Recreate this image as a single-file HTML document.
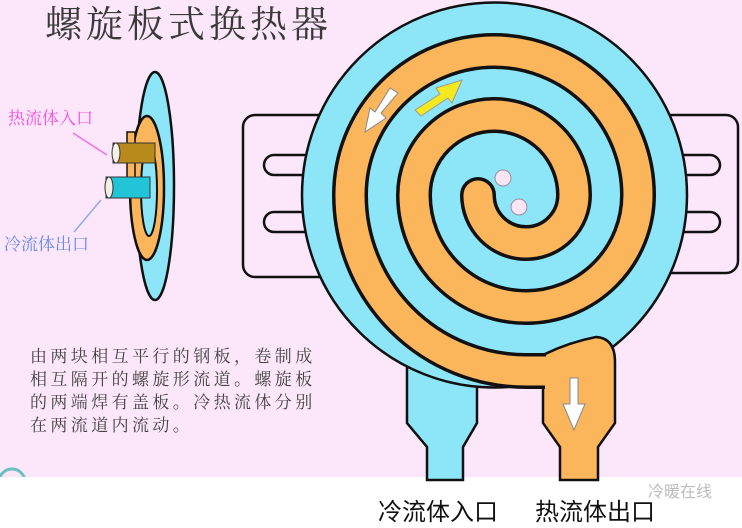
<!DOCTYPE html>
<html><head><meta charset="utf-8"><style>
html,body{margin:0;padding:0;}
body{width:742px;height:528px;overflow:hidden;background:#fff;position:relative;}
</style></head><body>
<svg width="742" height="528" viewBox="0 0 742 528" xmlns="http://www.w3.org/2000/svg" style="position:absolute;left:0;top:0">
<rect x="0" y="0" width="742" height="477" fill="#fbe6fa"/>
<text x="45" y="37" font-family="'Liberation Serif','Noto Serif CJK SC',serif" font-size="37" fill="#3a3a3a" letter-spacing="4">螺旋板式换热器</text>
<ellipse cx="155" cy="186" rx="19" ry="114" fill="#8de6f8" stroke="#111" stroke-width="2.5"/>
<ellipse cx="147" cy="188" rx="17" ry="72" fill="#fbb55a" stroke="#111" stroke-width="2.5"/>
<ellipse cx="149" cy="190" rx="8" ry="46" fill="#8de6f8" stroke="#111" stroke-width="2"/>
<rect x="127" y="132" width="8" height="60" fill="#fbb55a" stroke="#111" stroke-width="1.5"/>
<rect x="113" y="143" width="42" height="20" fill="#b88a1c" stroke="#333" stroke-width="1"/>
<ellipse cx="116" cy="153" rx="4" ry="10" fill="#f4f0e8" stroke="#333" stroke-width="1"/>
<rect x="106" y="177" width="44" height="21" fill="#22c4d8" stroke="#333" stroke-width="1"/>
<ellipse cx="109" cy="187.5" rx="4" ry="10.5" fill="#f4f0e8" stroke="#333" stroke-width="1"/>
<line x1="73" y1="133" x2="107" y2="155" stroke="#f070e8" stroke-width="1.5"/>
<line x1="74" y1="232" x2="101" y2="200" stroke="#8fa8f0" stroke-width="1.5"/>
<text x="8" y="124" font-family="'Liberation Serif','Noto Serif CJK SC',serif" font-size="17" fill="#f050e0">热流体入口</text>
<text x="4" y="250" font-family="'Liberation Serif','Noto Serif CJK SC',serif" font-size="17" fill="#6a8ae8">冷流体出口</text>
<rect x="243" y="115" width="90" height="162" rx="12" fill="#fbe6fa" stroke="#111" stroke-width="2.5"/>
<rect x="264" y="155" width="70" height="20" rx="10" fill="#fbe6fa" stroke="#111" stroke-width="2.5"/>
<rect x="264" y="212" width="70" height="20" rx="10" fill="#fbe6fa" stroke="#111" stroke-width="2.5"/>
<rect x="650" y="115" width="88" height="158" rx="12" fill="#fbe6fa" stroke="#111" stroke-width="2.5"/>
<rect x="650" y="155" width="70" height="20" rx="10" fill="#fbe6fa" stroke="#111" stroke-width="2.5"/>
<rect x="650" y="212" width="70" height="20" rx="10" fill="#fbe6fa" stroke="#111" stroke-width="2.5"/>
<path d="M407 340 L407 423 L427 447 L427 480 L463 480 L463 447 L477 423 L477 340 Z" fill="#8de6f8" stroke="#111" stroke-width="2.5"/>
<circle cx="494.5" cy="195" r="192.5" fill="#8de6f8" stroke="#111" stroke-width="2.5"/>
<path d="M543 386 L543 423 L560 447 L560 480 L598 480 L598 447 L615 423 L615 362 Q615 338 596 337 Q570 342 545 354 Z" fill="#fbb55a" stroke="#111" stroke-width="2.5"/>
<path d="M478 195 A48 48 0 0 0 574 195 A80 80 0 0 0 414 195 A112 112 0 0 0 638 195 A144 144 0 0 0 350 195 A176 176 0 0 0 526 371 L545 371" fill="none" stroke="#111" stroke-width="36" stroke-linecap="butt"/>
<circle cx="478" cy="195" r="18" fill="#111"/>
<path d="M546 356 Q570 344 596 339.5 Q613 341 613 362 L613 420 L545 420 Z" fill="#fbb55a"/>
<path d="M478 195 A48 48 0 0 0 574 195 A80 80 0 0 0 414 195 A112 112 0 0 0 638 195 A144 144 0 0 0 350 195 A176 176 0 0 0 526 371 L548 371" fill="none" stroke="#fbb55a" stroke-width="29" stroke-linecap="butt"/>
<circle cx="478" cy="195" r="14.5" fill="#fbb55a"/>
<circle cx="503" cy="178" r="8" fill="#f8e6f4" stroke="#a08aa0" stroke-width="1"/>
<circle cx="519" cy="207" r="8" fill="#f8e6f4" stroke="#a08aa0" stroke-width="1"/>
<polygon points="390,88 398,93 381,113 386,118 365,132 370,108 375,112" fill="#fff" stroke="#888" stroke-width="1"/>
<polygon points="415,110 440,94 436,88 462,80 452,103 448,98 421,116" fill="#f4e820" stroke="#999" stroke-width="1"/>
<polygon points="570,378 578,378 578,404 585,404 574,430 563,404 570,404" fill="#fff" stroke="#888" stroke-width="1"/>
<g font-family="'Liberation Serif','Noto Serif CJK SC',serif" font-size="17" fill="#444" letter-spacing="3.4">
<text x="30" y="362">由两块相互平行的钢板，卷制成</text>
<text x="30" y="385">相互隔开的螺旋形流道。螺旋板</text>
<text x="30" y="408">的两端焊有盖板。冷热流体分别</text>
<text x="30" y="431">在两流道内流动。</text>
</g>
<circle cx="12" cy="482" r="13" fill="none" stroke="#6cc0c0" stroke-width="3"/>
<rect x="0" y="477" width="400" height="51" fill="#fff"/>
<text x="378" y="520" font-family="'Liberation Sans','Noto Sans CJK SC',sans-serif" font-size="24" fill="#111">冷流体入口</text>
<text x="535" y="520" font-family="'Liberation Sans','Noto Sans CJK SC',sans-serif" font-size="24" fill="#111">热流体出口</text>
<text x="648" y="497" font-family="'Liberation Sans','Noto Sans CJK SC',sans-serif" font-size="16" fill="#bbb">冷暖在线</text>
</svg>
</body></html>
